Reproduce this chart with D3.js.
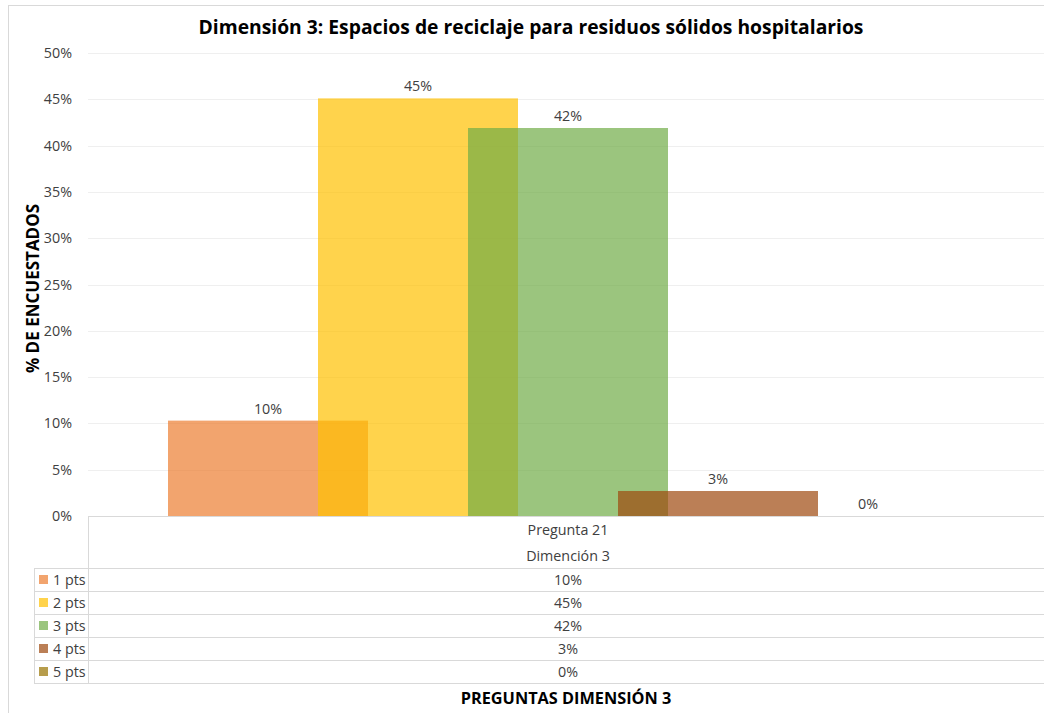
<!DOCTYPE html>
<html>
<head>
<meta charset="utf-8">
<script src="https://cdn.jsdelivr.net/npm/d3@7"></script>
<style>
  body { margin: 0; background: #fff; }
  svg { display: block; font-family: "Open Sans", sans-serif; }
</style>
</head>
<body>
<svg id="chart" width="1044" height="713"></svg>
<script>
// data
var categories = ["Pregunta 21"];
var groupLabel = "Dimención 3";
var seriesNames = ["1 pts", "2 pts", "3 pts", "4 pts", "5 pts"];
var seriesValues = [0.103, 0.451, 0.419, 0.027, 0];
var seriesLabels = ["10%", "45%", "42%", "3%", "0%"];
var seriesColors = ["#ED7D31", "#FFC000", "#70AD47", "#9E480E", "#997300"];
var yTicks = [0, 0.05, 0.1, 0.15, 0.2, 0.25, 0.3, 0.35, 0.4, 0.45, 0.5];

var svg = d3.select("#chart");
var W = 1044, H = 713;
// plot area runs a little past the right edge of the window
var plot = { left: 88, right: 1048, top: 53, bottom: 516 };
var lineCol = "#D9D9D9";
var gridCol = "#EFEFEF";
var textCol = "#404040";
var fs = 14.3;

// outer chart border
svg.append("rect").attr("x", 8.5).attr("y", 5.5).attr("width", W + 10).attr("height", H + 10)
  .attr("fill", "none").attr("stroke", lineCol);

var y = d3.scaleLinear().domain([0, 0.5]).range([plot.bottom, plot.top]);
var x0 = d3.scaleBand().domain(categories).range([plot.left, plot.right]).paddingOuter(0.1).paddingInner(0);
var x1 = d3.scalePoint().domain(seriesNames).range([0, x0.bandwidth()]).padding(2 / 3);
var barW = x1.step() * 4 / 3;

// gridlines
svg.append("g").selectAll("line").data(yTicks.slice(1)).join("line")
  .attr("x1", plot.left).attr("x2", plot.right)
  .attr("y1", function(d) { return Math.round(y(d)) + 0.5; })
  .attr("y2", function(d) { return Math.round(y(d)) + 0.5; })
  .attr("stroke", gridCol);

// y axis tick labels
var yAxis = d3.axisLeft(y).tickValues(yTicks).tickFormat(d3.format(".0%")).tickSize(0).tickPadding(16);
var gy = svg.append("g").attr("transform", "translate(" + plot.left + ",0)").call(yAxis);
gy.select(".domain").remove();
gy.selectAll("text").attr("font-family", "Open Sans").attr("font-size", fs).attr("fill", textCol);

// bars
var bars = svg.append("g");
categories.forEach(function(cat) {
  seriesNames.forEach(function(name, i) {
    var cx = x0(cat) + x1(name);
    bars.append("rect")
      .attr("x", cx - barW / 2)
      .attr("y", y(seriesValues[i]))
      .attr("width", barW)
      .attr("height", y(0) - y(seriesValues[i]))
      .attr("fill", seriesColors[i])
      .attr("fill-opacity", 0.7);
    bars.append("text")
      .attr("x", cx).attr("y", y(seriesValues[i]) - 7)
      .attr("text-anchor", "middle")
      .attr("font-size", fs).attr("fill", textCol)
      .text(seriesLabels[i]);
  });
});

// data table
var rowH = 23;
var tableTop = 568;
var legendLeft = 34;
var table = svg.append("g");
table.append("line").attr("x1", plot.left).attr("x2", plot.right).attr("y1", plot.bottom + 0.5).attr("y2", plot.bottom + 0.5).attr("stroke", lineCol);
table.append("line").attr("x1", plot.left + 0.5).attr("x2", plot.left + 0.5).attr("y1", plot.bottom).attr("y2", tableTop + rowH * seriesNames.length).attr("stroke", lineCol);
table.append("line").attr("x1", legendLeft + 0.5).attr("x2", legendLeft + 0.5).attr("y1", tableTop).attr("y2", tableTop + rowH * seriesNames.length).attr("stroke", lineCol);
d3.range(seriesNames.length + 1).forEach(function(k) {
  table.append("line").attr("x1", legendLeft).attr("x2", plot.right)
    .attr("y1", tableTop + k * rowH + 0.5).attr("y2", tableTop + k * rowH + 0.5).attr("stroke", lineCol);
});

categories.forEach(function(cat) {
  var cx = x0(cat) + x0.bandwidth() / 2;
  table.append("text").attr("x", cx).attr("y", 535).attr("text-anchor", "middle")
    .attr("font-size", fs).attr("fill", textCol).text(cat);
  table.append("text").attr("x", cx).attr("y", 561).attr("text-anchor", "middle")
    .attr("font-size", fs).attr("fill", textCol).text(groupLabel);
  seriesNames.forEach(function(name, i) {
    table.append("text").attr("x", cx).attr("y", tableTop + i * rowH + 16.5).attr("text-anchor", "middle")
      .attr("font-size", fs).attr("fill", textCol).text(seriesLabels[i]);
  });
});

seriesNames.forEach(function(name, i) {
  var ry = tableTop + i * rowH;
  table.append("rect").attr("x", 39).attr("y", ry + 7).attr("width", 9).attr("height", 9)
    .attr("fill", seriesColors[i]).attr("fill-opacity", 0.7);
  table.append("text").attr("x", 53).attr("y", ry + 16.5)
    .attr("font-size", fs).attr("fill", textCol).text(name);
});

// titles
svg.append("text").attr("x", 531).attr("y", 34).attr("text-anchor", "middle")
  .attr("font-size", 19.3).attr("font-weight", "bold").attr("fill", "#000")
  .text("Dimensión 3: Espacios de reciclaje para residuos sólidos hospitalarios");
svg.append("text").attr("transform", "translate(39," + ((plot.top + plot.bottom) / 2 + 4) + ") rotate(-90)")
  .attr("text-anchor", "middle").attr("font-size", 17).attr("font-weight", "bold").attr("fill", "#000")
  .text("% DE ENCUESTADOS");
svg.append("text").attr("x", 566).attr("y", 704).attr("text-anchor", "middle")
  .attr("font-size", 16.3).attr("font-weight", "bold").attr("fill", "#000")
  .text("PREGUNTAS DIMENSIÓN 3");
</script>
</body>
</html>
